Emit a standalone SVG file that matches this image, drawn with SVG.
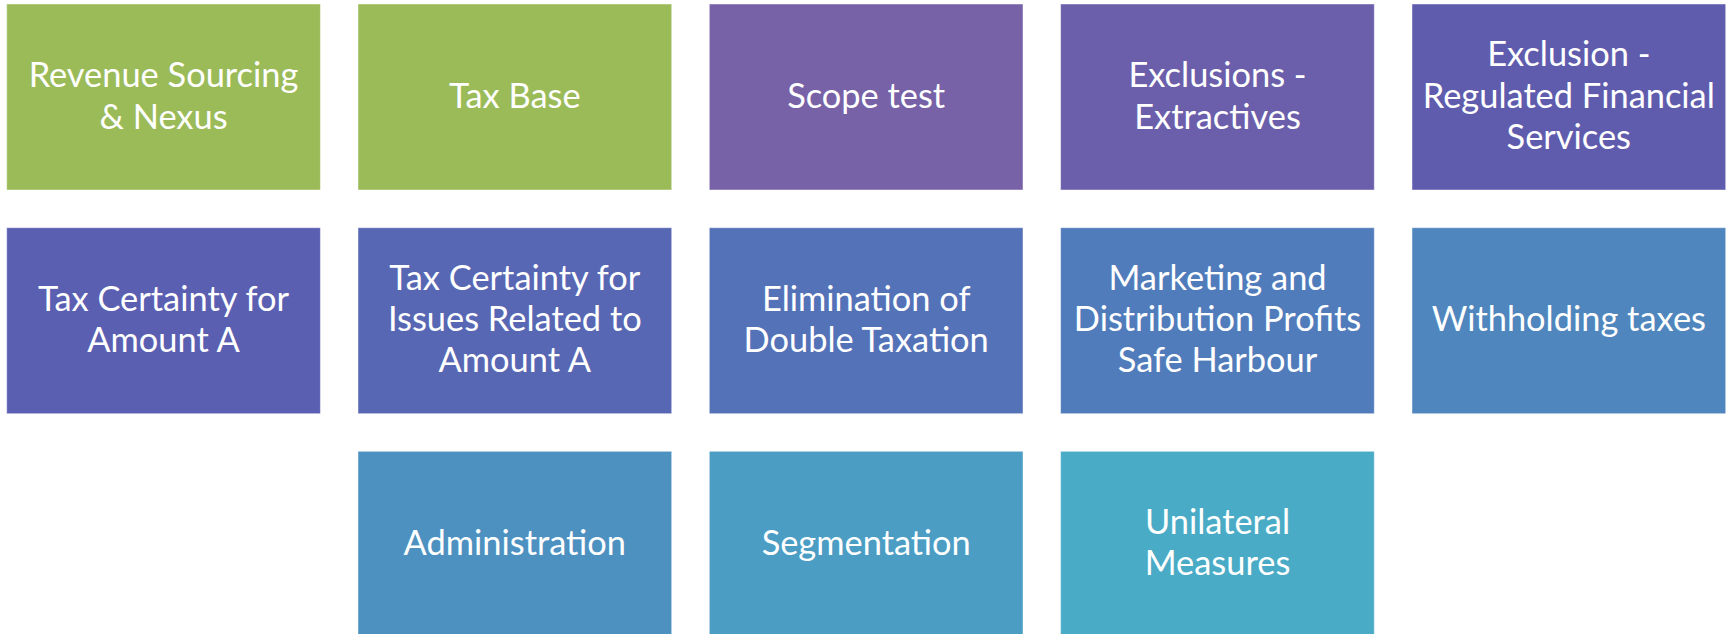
<svg xmlns="http://www.w3.org/2000/svg" width="1729" height="634" viewBox="0 0 1729 634">
<style>
.b{stroke:#ffffff;stroke-opacity:0.45;stroke-width:1}
.t{font-family:Lato,"Liberation Sans",sans-serif;font-size:34.4px;fill:#ffffff;text-anchor:middle}
</style>
<rect width="1729" height="634" fill="#ffffff"/>
<g id="n1"><rect class="b" x="6.7" y="4" width="313.7" height="186" fill="#9BBB59"/><text class="t"><tspan x="163.5" y="87.3">Revenue Sourcing</tspan><tspan x="163.5" y="128.6">&amp; Nexus</tspan></text></g>
<g id="n2"><rect class="b" x="358" y="4" width="313.7" height="186" fill="#9BBB59"/><text class="t"><tspan x="514.8" y="107.5">Tax Base</tspan></text></g>
<g id="n3"><rect class="b" x="709.3" y="4" width="313.7" height="186" fill="#7862A7"/><text class="t"><tspan x="866.2" y="107.5">Scope test</tspan></text></g>
<g id="n4"><rect class="b" x="1060.6" y="4" width="313.7" height="186" fill="#6B5FAB"/><text class="t"><tspan x="1217.5" y="87.3">Exclusions -</tspan><tspan x="1217.5" y="128.6">Extractives</tspan></text></g>
<g id="n5"><rect class="b" x="1412" y="4" width="313.7" height="186" fill="#5F5CAE"/><text class="t"><tspan x="1568.8" y="66.2">Exclusion -</tspan><tspan x="1568.8" y="107.5">Regulated Financial</tspan><tspan x="1568.8" y="148.8">Services</tspan></text></g>
<g id="n6"><rect class="b" x="6.7" y="227.7" width="313.7" height="186" fill="#5B5FB2"/><text class="t"><tspan x="163.5" y="311">Tax Certainty for</tspan><tspan x="163.5" y="352.3">Amount A</tspan></text></g>
<g id="n7"><rect class="b" x="358" y="227.7" width="313.7" height="186" fill="#5867B4"/><text class="t"><tspan x="514.8" y="289.7">Tax Certainty for</tspan><tspan x="514.8" y="331">Issues Related to</tspan><tspan x="514.8" y="372.3">Amount A</tspan></text></g>
<g id="n8"><rect class="b" x="709.3" y="227.7" width="313.7" height="186" fill="#5472B8"/><text class="t"><tspan x="866.2" y="311">Elimination of</tspan><tspan x="866.2" y="352.3">Double Taxation</tspan></text></g>
<g id="n9"><rect class="b" x="1060.6" y="227.7" width="313.7" height="186" fill="#517CBB"/><text class="t"><tspan x="1217.5" y="289.7">Marketing and</tspan><tspan x="1217.5" y="331">Distribution Profits</tspan><tspan x="1217.5" y="372.3">Safe Harbour</tspan></text></g>
<g id="n10"><rect class="b" x="1412" y="227.7" width="313.7" height="186" fill="#4F86BD"/><text class="t"><tspan x="1568.8" y="331">Withholding taxes</tspan></text></g>
<g id="n11"><rect class="b" x="358" y="451.3" width="313.7" height="186" fill="#4D91C1"/><text class="t"><tspan x="514.8" y="554.7">Administration</tspan></text></g>
<g id="n12"><rect class="b" x="709.3" y="451.3" width="313.7" height="186" fill="#4B9DC4"/><text class="t"><tspan x="866.2" y="554.7">Segmentation</tspan></text></g>
<g id="n13"><rect class="b" x="1060.6" y="451.3" width="313.7" height="186" fill="#4AABC6"/><text class="t"><tspan x="1217.5" y="534">Unilateral</tspan><tspan x="1217.5" y="575.3">Measures</tspan></text></g>
<g id="connectors"></g>
</svg>
